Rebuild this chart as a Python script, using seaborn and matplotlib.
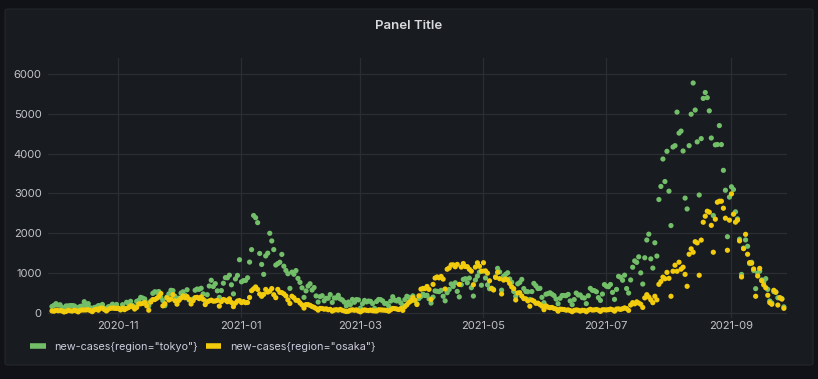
import matplotlib
matplotlib.use("Agg")
import matplotlib.pyplot as plt
import matplotlib.dates as mdates
import seaborn as sns
import pandas as pd
from matplotlib.patches import FancyBboxPatch
from matplotlib.lines import Line2D

# ---------------- data (daily new cases, 2020-09-29 .. 2021-09-27) ----------------
start_date = "2020-09-29 09:00"
label_tokyo = 'new-cases{region="tokyo"}'
label_osaka = 'new-cases{region="osaka"}'

tokyo_cases = [
    163, 194,
    # Oct 2020
    235, 196, 207, 143, 78, 178, 177, 186, 187, 180,
    146, 78, 166, 177, 284, 185, 235, 132, 78, 139,
    150, 185, 186, 215, 124, 102, 158, 171, 221, 122, 215,
    # Nov
    116, 87, 209, 122, 269, 242, 294, 189, 157, 293,
    317, 393, 374, 352, 255, 180, 298, 493, 534, 522,
    539, 391, 314, 186, 401, 481, 570, 561, 418, 311,
    # Dec
    372, 500, 533, 449, 584, 327, 299, 352, 572, 602,
    595, 621, 480, 305, 460, 678, 822, 664, 736, 556,
    392, 563, 748, 888, 884, 949, 708, 481, 856, 944, 1337,
    # Jan 2021
    783, 814, 816, 884, 1278, 1591, 2447, 2392, 2268, 1494,
    1219, 970, 1433, 1502, 2001, 1809, 1592, 1204, 1240, 1274,
    1471, 1175, 1070, 986, 618, 1026, 973, 1064, 868, 769, 633,
    # Feb
    393, 556, 676, 734, 577, 639, 429, 276, 412, 434,
    307, 369, 371, 463, 266, 378, 378, 445, 353, 327,
    272, 178, 275, 213, 340, 270, 337, 329,
    # Mar
    121, 232, 316, 279, 301, 293, 237, 116, 290, 340,
    335, 304, 239, 239, 175, 300, 409, 323, 303, 342,
    256, 187, 337, 420, 394, 376, 430, 313, 234, 364, 414,
    # Apr
    475, 440, 446, 355, 249, 399, 555, 545, 537, 570,
    421, 306, 510, 591, 729, 667, 759, 543, 405, 711,
    843, 861, 759, 876, 635, 425, 828, 925, 1027, 698,
    # May
    1050, 879, 708, 609, 621, 591, 907, 1121, 1032, 573,
    925, 969, 1010, 854, 772, 542, 419, 732, 766, 843,
    614, 539, 535, 340, 539, 743, 684, 614, 620, 393, 260,
    # Jun
    471, 487, 508, 472, 436, 351, 235, 369, 440, 439,
    435, 467, 304, 209, 337, 501, 452, 453, 388, 376,
    236, 435, 619, 570, 562, 534, 386, 317, 476, 714,
    # Jul
    673, 660, 716, 518, 342, 593, 920, 896, 822, 950,
    614, 502, 830, 1149, 1308, 1271, 1410, 1008, 727, 1387,
    1832, 1979, 1359, 1128, 1763, 1429, 2848, 3177, 3865, 3300, 4058,
    # Aug
    3058, 2195, 4166, 4200, 5042, 4515, 4566, 4066, 2884, 2612,
    4200, 4989, 5773, 5094, 4295, 2962, 4377, 5386, 5534, 5405,
    5074, 4392, 2447, 4220, 4228, 4704, 4227, 3581, 3081, 1915, 2909,
    # Sep
    3168, 3099, 2539, 2362, 1853, 968, 1629, 1834, 1675, 1242,
    1273, 1067, 611, 1004, 1052, 831, 782, 862, 594, 302,
    253, 537, 531, 382, 382, 362, 154,
]

osaka_cases = [
    54, 46,
    # Oct 2020
    71, 57, 61, 51, 26, 41, 68, 59, 48, 68,
    55, 29, 69, 77, 76, 78, 84, 61, 34, 79,
    96, 71, 121, 124, 86, 52, 96, 119, 124, 123, 114,
    # Nov
    120, 78, 124, 84, 115, 137, 182, 156, 100, 140,
    227, 231, 240, 263, 180, 70, 273, 338, 338, 370,
    415, 490, 180, 234, 383, 327, 354, 463, 310, 222,
    # Dec
    318, 375, 427, 384, 411, 347, 227, 311, 387, 393,
    361, 404, 342, 211, 280, 305, 323, 297, 301, 316,
    173, 285, 339, 323, 284, 357, 265, 160, 249, 300, 313,
    # Jan 2021
    262, 287, 260, 264, 390, 560, 607, 654, 592, 478,
    420, 468, 592, 525, 547, 613, 460, 385, 593, 519,
    511, 480, 430, 330, 240, 421, 381, 320, 316, 254, 204,
    # Feb
    124, 212, 211, 192, 163, 143, 113, 72, 116, 113,
    96, 106, 82, 92, 48, 75, 83, 73, 91, 67,
    52, 38, 45, 73, 81, 69, 80, 50,
    # Mar
    29, 62, 80, 68, 62, 74, 57, 52, 51, 82,
    79, 74, 72, 64, 46, 82, 114, 112, 100, 87,
    112, 66, 158, 205, 266, 300, 386, 323, 213, 432, 599,
    # Apr
    616, 613, 666, 593, 341, 719, 878, 905, 883, 918,
    851, 603, 1099, 1130, 1208, 1209, 1161, 1220, 719, 1153,
    1242, 1167, 1162, 1097, 1050, 710, 1153, 1260, 1172, 1051,
    # May
    1262, 1057, 1000, 808, 616, 578, 894, 1021, 862, 479,
    827, 855, 829, 743, 658, 612, 328, 503, 510, 427,
    362, 356, 304, 170, 324, 298, 244, 248, 214, 174, 83,
    # Jun
    180, 148, 133, 140, 115, 101, 46, 98, 93, 88,
    71, 79, 61, 33, 67, 78, 70, 47, 69, 65,
    33, 72, 94, 74, 78, 89, 73, 41, 81, 82,
    # Jul
    76, 84, 99, 82, 47, 100, 104, 91, 108, 129,
    111, 66, 200, 260, 230, 280, 250, 220, 140, 380,
    460, 400, 330, 260, 420, 330, 720, 790, 900, 860, 1020,
    # Aug
    870, 420, 1048, 1200, 1048, 1275, 1100, 1150, 970, 670,
    1475, 1610, 1525, 1790, 1760, 947, 1830, 2278, 2430, 2555,
    2530, 2200, 1525, 2355, 2780, 2806, 2806, 2630, 2380, 1575, 2330,
    # Sep
    2990, 2480, 2280, 2330, 1810, 905, 1615, 1975, 1475, 1265,
    1250, 1105, 420, 930, 1120, 810, 705, 635, 445, 260,
    220, 570, 520, 200, 385, 350, 118,
]

y_ticks = [0, 1000, 2000, 3000, 4000, 5000, 6000]
series_colors = ["#73BF69", "#F2CC0C"]

# ---------------- figure ----------------
W, H = 818, 379
sns.set_theme(style="dark")
plt.rcParams["font.family"] = ["Inter", "DejaVu Sans"]

fig = plt.figure(figsize=(W / 100, H / 100), dpi=100, facecolor="#111217")
panel = FancyBboxPatch((5 / W, (H - 365) / H), (813 - 5) / W, (365 - 9) / H,
                       boxstyle="round,pad=0,rounding_size=0.004",
                       transform=fig.transFigure, facecolor="#181b1f",
                       edgecolor="#23262c", linewidth=0.8, zorder=-5)
fig.patches.append(panel)

ax = fig.add_axes([48 / W, (H - 318) / H, (787 - 48) / W, (318 - 58) / H])
ax.set_zorder(2)
ax.set_facecolor("#181b1f")

dates = pd.date_range(start_date, periods=len(tokyo_cases), freq="D")
df = pd.concat([
    pd.DataFrame({"time": dates, "value": tokyo_cases, "series": label_tokyo}),
    pd.DataFrame({"time": dates, "value": osaka_cases, "series": label_osaka}),
], ignore_index=True)

sns.scatterplot(data=df, x="time", y="value", hue="series",
                hue_order=[label_tokyo, label_osaka], palette=series_colors,
                s=14, linewidth=0, alpha=1, ax=ax, legend=False, zorder=3)

ax.set_xlim(pd.Timestamp("2020-09-27 09:36"), pd.Timestamp("2021-09-28 22:00"))
ax.set_ylim(-125, 6400)
ax.set_yticks(y_ticks)
ax.xaxis.set_major_locator(mdates.MonthLocator(bymonth=[1, 3, 5, 7, 9, 11]))
ax.xaxis.set_major_formatter(mdates.DateFormatter("%Y-%m"))
ax.set_xlabel("")
ax.set_ylabel("")

ax.grid(True, color="#2b2d32", linewidth=0.9, alpha=1)
for s in ax.spines.values():
    s.set_visible(False)
ax.tick_params(axis="both", length=0, colors="#c4c4cc", labelsize=8)
ax.tick_params(axis="y", pad=4.5)
ax.tick_params(axis="x", pad=2.5)

fig.text(409 / W, 1 - 26 / H, "Panel Title", ha="center", va="center",
         color="#d8d9dc", fontsize=9.5, fontweight="semibold")

handles = [Line2D([0], [0], color=c, lw=4, solid_capstyle="butt") for c in series_colors]
fig.legend(handles, [label_tokyo, label_osaka], loc="center left",
           bbox_to_anchor=(30 / W, 1 - 347 / H), ncol=2, frameon=False,
           fontsize=7.8, handlelength=1.45, handletextpad=0.8, columnspacing=0.7,
           borderpad=0, borderaxespad=0, labelcolor="#ccccdc")

fig.savefig("out.png", dpi=100, facecolor=fig.get_facecolor())
